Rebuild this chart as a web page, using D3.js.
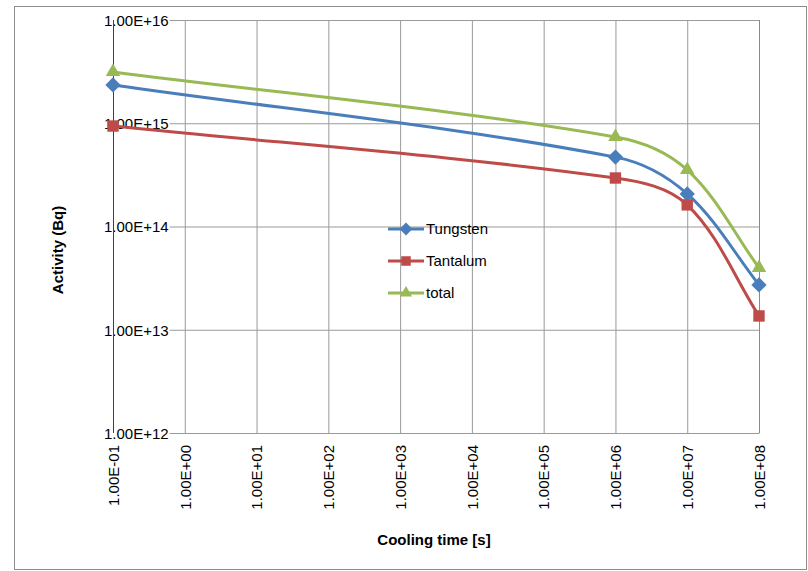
<!DOCTYPE html>
<html>
<head>
<meta charset="utf-8">
<script src="https://cdn.jsdelivr.net/npm/d3@7"></script>
<style>
  body { margin: 0; background: #fff; }
  svg { font-family: 'Liberation Sans', Arial, sans-serif; }
</style>
</head>
<body>
<div id="chart"></div>
<script>
// cooling times [s] and activities [Bq]
const times = [1e-1, 1e6, 1e7, 1e8];
const tungsten = [2.35e15, 4.7e14, 2.07e14, 2.72e13];
const tantalum = [9.4e14, 2.95e14, 1.62e14, 1.36e13];
const total = [3.14e15, 7.37e14, 3.53e14, 3.98e13];

const xTicks = [1e-1, 1e0, 1e1, 1e2, 1e3, 1e4, 1e5, 1e6, 1e7, 1e8];
const yTicks = [1e12, 1e13, 1e14, 1e15, 1e16];

const series = [
  { name: 'Tungsten', values: tungsten, color: '#4A7EBB', symbol: d3.symbolDiamond2, size: 150 },
  { name: 'Tantalum', values: tantalum, color: '#BE4B48', symbol: d3.symbolSquare2, size: 165 },
  { name: 'total', values: total, color: '#98B954', symbol: d3.symbolTriangle2, size: 150 }
];

const width = 808;
const height = 571;
const plot = { left: 113, right: 759, top: 20, bottom: 433 };

const svg = d3.select('#chart')
  .append('svg')
  .attr('width', width)
  .attr('height', height);

// outer chart border
svg.append('rect')
  .attr('x', 14.5).attr('y', 6.5)
  .attr('width', 792).attr('height', 563)
  .attr('fill', 'none')
  .attr('stroke', '#8c8c8c');

const x = d3.scaleLog().domain([1e-1, 1e8]).range([plot.left, plot.right]);
const y = d3.scaleLog().domain([1e12, 1e16]).range([plot.bottom, plot.top]);

function fmt(v) {
  const e = Math.round(Math.log10(v));
  return '1.00E' + (e < 0 ? '-' : '+') + String(Math.abs(e)).padStart(2, '0');
}

// x axis with vertical gridlines
const xAxis = svg.append('g')
  .attr('transform', `translate(0,${plot.bottom})`)
  .call(d3.axisBottom(x).tickValues(xTicks).tickFormat(fmt)
    .tickSize(-(plot.bottom - plot.top)).tickSizeOuter(0));
xAxis.select('.domain').attr('stroke', '#9a9a9a');
xAxis.selectAll('.tick line').attr('stroke', '#9a9a9a');
xAxis.selectAll('.tick text')
  .attr('transform', 'rotate(-90)')
  .attr('x', -12).attr('y', 0).attr('dy', '0.35em')
  .attr('text-anchor', 'end')
  .attr('fill', '#000')
  .style('font-size', '15px');

// y axis with horizontal gridlines
const yAxis = svg.append('g')
  .attr('transform', `translate(${plot.left},0)`)
  .call(d3.axisLeft(y).tickValues(yTicks).tickFormat(fmt)
    .tickSize(-(plot.right - plot.left)).tickSizeOuter(0));
yAxis.select('.domain').remove();
yAxis.selectAll('.tick line').attr('stroke', '#9a9a9a');
yAxis.selectAll('.tick text')
  .attr('x', -9).attr('dy', '0.35em')
  .attr('text-anchor', 'start')
  .attr('fill', '#000')
  .style('font-size', '15px');
// white box behind tick labels, like the original
yAxis.selectAll('.tick').each(function () {
  const t = d3.select(this).select('text');
  const b = t.node().getBBox();
  d3.select(this).insert('rect', 'text')
    .attr('x', b.x).attr('y', b.y + 2)
    .attr('width', b.width + 1).attr('height', b.height - 4)
    .attr('fill', '#fff');
});

// right plot border and left axis line
svg.append('line')
  .attr('x1', plot.right + 0.5).attr('x2', plot.right + 0.5)
  .attr('y1', plot.top).attr('y2', plot.bottom)
  .attr('stroke', '#8a8a8a');
svg.append('line')
  .attr('x1', plot.left + 0.5).attr('x2', plot.left + 0.5)
  .attr('y1', plot.top).attr('y2', plot.bottom)
  .attr('stroke', '#404040');

// smoothed line like the spreadsheet: tangent along neighbours, handle ~ chord/3
function smooth(values) {
  const p = values.map((v, i) => [x(times[i]), y(v)]);
  const unit = (a, b) => {
    const dx = b[0] - a[0], dy = b[1] - a[1];
    const l = Math.hypot(dx, dy) || 1;
    return [dx / l, dy / l];
  };
  const path = d3.path();
  path.moveTo(p[0][0], p[0][1]);
  for (let i = 0; i < p.length - 1; i++) {
    const a = p[i], b = p[i + 1];
    const prev = p[Math.max(i - 1, 0)], next = p[Math.min(i + 2, p.length - 1)];
    const d = Math.hypot(b[0] - a[0], b[1] - a[1]) / 3;
    const t0 = unit(prev, b);
    const t1 = unit(a, next);
    path.bezierCurveTo(a[0] + t0[0] * d, a[1] + t0[1] * d,
      b[0] - t1[0] * d, b[1] - t1[1] * d, b[0], b[1]);
  }
  return path.toString();
}

const seriesG = svg.selectAll('.series')
  .data(series)
  .enter()
  .append('g')
  .attr('class', 'series');

seriesG.append('path')
  .attr('d', d => smooth(d.values))
  .attr('fill', 'none')
  .attr('stroke', d => d.color)
  .attr('stroke-width', 3)
  .attr('stroke-linejoin', 'round');

seriesG.each(function (s) {
  d3.select(this).selectAll('.marker')
    .data(s.values)
    .enter()
    .append('path')
    .attr('class', 'marker')
    .attr('transform', (d, i) => `translate(${x(times[i])},${y(d)})`)
    .attr('d', d3.symbol().type(s.symbol).size(s.size))
    .attr('fill', s.color);
});

// legend
const legend = svg.append('g')
  .attr('transform', 'translate(388,229)');
const item = legend.selectAll('.item')
  .data(series)
  .enter()
  .append('g')
  .attr('transform', (d, i) => `translate(0,${i * 32})`);
item.append('line')
  .attr('x1', 0).attr('x2', 36)
  .attr('stroke', d => d.color)
  .attr('stroke-width', 3);
item.append('path')
  .attr('transform', 'translate(18,0)')
  .attr('d', d => d3.symbol().type(d.symbol).size(d.size * 0.7)())
  .attr('fill', d => d.color);
item.append('text')
  .attr('x', 38).attr('dy', '0.35em')
  .style('font-size', '15px')
  .text(d => d.name);

// axis titles
svg.append('text')
  .attr('x', 434).attr('y', 545)
  .attr('text-anchor', 'middle')
  .style('font-size', '15px')
  .style('font-weight', 'bold')
  .text('Cooling time [s]');
svg.append('text')
  .attr('transform', 'translate(63,250) rotate(-90)')
  .attr('text-anchor', 'middle')
  .style('font-size', '15px')
  .style('font-weight', 'bold')
  .text('Activity (Bq)');
</script>
</body>
</html>
